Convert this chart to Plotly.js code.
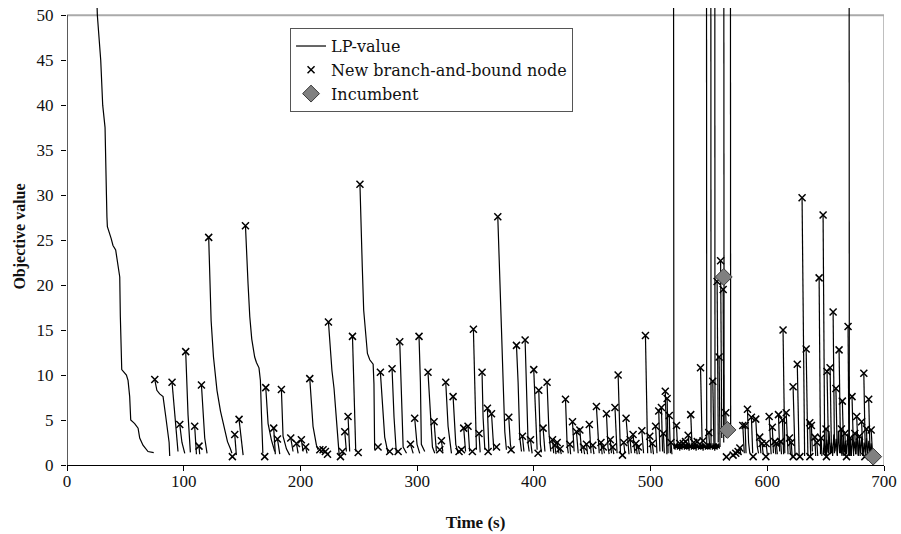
<!DOCTYPE html>
<html>
<head>
<meta charset="utf-8">
<script src="https://cdn.plot.ly/plotly-3.0.1.min.js"></script>
<style>html,body{margin:0;padding:0;background:#fff}#chart{width:901px;height:534px}</style>
</head>
<body>
<div id="chart"></div>
<script>
// LP-value trajectory: one segment per branch-and-bound node, separated by null
const lpTime = [
25.5,26,28.9,30.6,32.6,33.2,33.8,34.2,34.6,37.8,39.4,41.7,43.7,45.2,45.7,46.9,50.9,52.3,53.7,54.6,58,60.9,62.3,65.1,69.4,74.3,null,
75.2,77,79.4,82.3,84.5,86.6,87.5,88,null,
90,92,94,95.1,null,
96.6,98.5,100.9,null,
101.7,103.7,105.7,null,
109.4,110.9,null,
113.1,113.7,null,
115.2,116.6,118,120,null,
121.4,122.3,123.5,125.5,128.5,131.5,134.5,137.5,140,141.3,null,
143.7,145.1,null,
147.4,149,150.9,null,
152.9,153.7,155.1,156.6,158.3,160.8,162.3,164.5,165.7,166.6,167.8,null,
170.3,172.3,175.1,178,null,
177.1,178.5,null,
180.3,182.3,null,
183.7,185.1,188,190.8,null,
191.7,193.7,null,
196.6,198,null,
200.8,202.3,null,
204.5,205.7,null,
208,210.8,213.7,215.1,null,
216.6,218,null,
219.4,220.5,null,
221.4,222.5,null,
224,225.5,227,228.8,230.5,232,233.2,null,
236,237,null,
238,239.4,null,
240.8,242.2,null,
244.6,245.7,246.6,247.4,null,
251,252,253,254.2,255.9,257.4,259.4,262.3,263,263.6,null,
268.5,270.2,272.2,275.1,null,
278.5,280.2,282.2,null,
285.1,286,288,290.9,null,
294.3,296.6,null,
297.9,299.9,302.2,null,
301.6,302.8,303.6,306.5,null,
309.3,311.4,313.1,315.1,null,
314.5,316.5,null,
320.8,322,null,
324.5,326.5,329.4,null,
330.8,333.1,335.1,null,
339.9,341.5,null,
343.6,345,null,
348.2,349.4,350.8,null,
353,354,null,
355.6,356.5,358,null,
360.2,361.5,null,
363.7,365.7,null,
369.1,369.9,370.8,372.2,373.7,375.1,376.5,null,
378.5,379.9,381,null,
385.1,386.5,387.9,389.4,null,
390.2,391.5,null,
392.5,393.6,395.1,396,null,
397.1,398.5,null,
399.9,401.6,402.8,null,
404.2,405.6,406.5,null,
407.9,409.5,null,
411.3,413,414.5,null,
416,417,null,
418,419,null,
420,421.5,null,
422.5,423.5,null,
427.1,428.5,429.5,null,
430.8,431.5,null,
433.1,434.5,null,
436.5,438,null,
439.4,441,null,
442.5,443.5,null,
445.1,446,null,
447.5,449,null,
450.5,451.5,null,
453.6,455,456,null,
457.5,458.5,null,
459.5,460.5,null,
462.2,463.5,464.5,null,
465.5,466.5,null,
467.5,468.5,null,
469.5,470.5,471.3,null,
472.2,473.2,474.2,null,
477,478,null,
479,480.5,481.5,null,
482.5,483.5,null,
485,486.5,null,
487.5,488.5,null,
489.5,490.5,null,
492.5,494,null,
495.6,496.6,497.5,null,
499.3,500.5,null,
501.5,502.5,null,
504.3,505.5,null,
507,508,null,
509.3,510.3,null,
511,511.8,null,
512.6,513.3,514,null,
514.2,515,null,
516,517,null,
517.5,518.3,null,
519.6,519.7,
520,520.5,521,521.5,522,522.5,523,523.5,524,524.5,525,525.5,526,526.5,527,527.5,528,528.5,529,529.5,
530,530.5,531,531.5,532,532.5,533,533.5,534,534.5,535,535.5,536,536.5,537,537.5,538,538.5,539,539.5,
540,540.5,541,541.5,542,542.5,543,543.5,544,544.5,545,545.5,546,546.5,547,547.5,548,548.5,549,549.5,
550,550.5,551,551.5,552,552.5,553,553.5,554,554.5,555,555.5,556,556.5,557,557.5,558,558.5,559,null,
522.2,523,null,
532.2,533,null,
534.4,535.5,null,
542.8,543.5,544.2,null,
547.9,548.1,null,
549.9,550.5,null,
551.6,551.8,null,
553.3,553.9,554.3,null,
555,555.2,null,
557,557.6,558,null,
558.7,559.2,559.5,null,
560,560.6,561,null,
562.2,562.5,562.7,null,
562.7,563,null,
564.4,565,null,
568.4,568.6,null,
575,576,null,
576.5,577.3,null,
579,580.3,null,
581,581.8,null,
583,584,585,null,
586.4,587.5,null,
590.1,591.5,592.5,null,
593.5,594.5,null,
595.5,596.5,null,
599,600,null,
601.6,602.5,603.3,null,
604.3,605.3,null,
606.4,607.3,null,
607.8,608.6,null,
609.6,610.6,null,
611.5,612.2,null,
613,613.5,614,null,
613.5,614.2,615,null,
616.2,617,617.8,null,
619,619.8,null,
620.5,621.3,null,
622.1,623,623.8,null,
625.7,626.5,627.3,null,
629.8,630.5,631.2,632,null,
633.3,634,634.8,null,
636.4,637.2,null,
637.8,638.6,null,
640.7,641.5,null,
642.5,643.2,null,
644.4,645,645.6,null,
646.2,646.8,null,
647.8,648.5,649.2,null,
650.3,650.9,null,
651.2,651.9,652.5,null,
653.8,654.4,655,null,
656.4,657,657.6,null,
658.8,659.5,660,null,
661.5,662.2,662.8,null,
663.5,664,null,
664.3,665,665.6,null,
666.5,667.2,null,
669.2,669.7,670,null,
670.1,670.3,null,
671,671.6,null,
672.6,673.3,674,null,
675,675.7,null,
676.6,677.3,678,null,
679,679.6,null,
680.8,681.5,682,null,
682.7,683.3,684,null,
685,685.6,null,
686.9,687.5,688.1,null,
689,689.7,690.3,null,
648,649,650,651,652,653,654,655,656,657,658,659,660,661,662,663,664,665,666,667,668,669,670,671,672,673,674,675,676,677,678,679,680,681,682,683,684,685,686,687,688,689,690
];
const lpValue = [
52,50,45,40,37.5,35,30,27.6,26.5,25.2,24.4,23.9,22.4,20.9,16.5,10.6,10,9.4,7.6,5,4.6,4.1,3,2.2,1.5,1.37,null,
9.5,8.3,7.9,7.6,5.5,3.5,2.5,1.0,null,
9.2,6,3,1.5,null,
4.5,2.5,1.3,null,
12.6,5.6,1.4,null,
4.3,1.2,null,
2.1,1.2,null,
8.9,5.4,3,1.3,null,
25.3,20.5,16,12,8.3,6,4.2,2.6,1.8,1.3,null,
3.4,1.1,null,
5.07,3,1.1,null,
26.6,23.9,20.2,16.5,14,12,11.4,10.8,9.4,5.7,1.3,null,
8.6,4.6,2.8,1.5,null,
4.1,1.2,null,
2.9,1.2,null,
8.4,3.2,1.8,1.1,null,
3.0,1.5,null,
2.4,1.3,null,
2.8,1.5,null,
2.0,1.3,null,
9.6,4.3,2.2,1.7,null,
1.7,1.4,null,
1.7,1.4,null,
1.5,1.3,null,
15.9,13,10.5,8.5,6,3.5,1.1,null,
1.5,1.2,null,
3.7,1.5,null,
5.4,1.5,null,
14.3,9.2,4,1.5,null,
31.2,27.6,22,17.2,15,12.4,11.7,11.2,9,1.7,null,
10.3,7.2,3.1,1.3,null,
10.7,5.3,1.3,null,
13.7,9.1,2.0,1.3,null,
2.3,1.3,null,
5.2,2.3,1.3,null,
14.3,9.2,2.3,1.5,null,
10.3,5.3,2.0,1.3,null,
4.8,1.5,null,
2.7,1.5,null,
9.2,4.3,1.3,null,
7.6,2.3,1.3,null,
4.1,1.5,null,
4.3,1.5,null,
15.1,9.2,1.7,null,
3.5,1.4,null,
10.3,5.3,1.7,null,
6.3,1.5,null,
5.7,1.7,null,
27.6,23.9,19.4,15.3,9.2,3.7,1.7,null,
5.3,2.3,1.5,null,
13.3,9.2,3.1,1.5,null,
3.2,1.5,null,
13.9,9.2,2.3,1.5,null,
2.8,1.3,null,
10.6,5.3,1.7,null,
8.3,2.3,1.4,null,
4.1,1.5,null,
9.2,3.5,1.5,null,
2.8,1.3,null,
2.2,1.2,null,
2.5,1.3,null,
1.8,1.2,null,
7.3,2.3,1.3,null,
2.3,1.2,null,
4.8,1.5,null,
3.7,1.3,null,
3.9,1.3,null,
2.0,1.2,null,
2.3,1.2,null,
4.5,1.3,null,
2.2,1.2,null,
6.5,2.5,1.3,null,
2.5,1.2,null,
2.0,1.3,null,
5.7,2,1.2,null,
2.8,1.3,null,
2.0,1.2,null,
6.4,2.5,1.3,null,
10,4,1.3,null,
2.5,1.3,null,
5.2,2,1.2,null,
2.8,1.3,null,
3.4,1.3,null,
2.4,1.2,null,
2.0,1.2,null,
3.8,1.3,null,
14.4,6,1.3,null,
3.2,1.3,null,
2.4,1.2,null,
4.3,1.3,null,
6,1.5,null,
6.4,1.5,null,
3.5,1.3,null,
8.2,3,1.2,null,
7.4,1.3,null,
5.5,1.3,null,
2.5,1.2,null,
70,2.0,
1.8,2.4,1.7,2.3,1.9,2.4,1.7,2.2,1.8,2.4,1.6,2.3,1.8,2.4,1.7,2.4,1.9,2.2,1.7,2.3,
1.8,2.4,1.7,2.4,1.8,2.3,1.6,2.4,1.9,2.2,1.7,2.4,1.8,2.3,1.7,2.4,1.8,2.4,1.6,2.3,
1.9,2.4,1.7,2.2,1.8,2.4,1.7,2.3,1.8,2.4,1.6,2.4,1.9,2.3,1.7,2.2,1.8,2.4,1.7,2.4,
1.8,2.3,1.7,2.4,1.9,2.2,1.7,2.4,1.8,2.3,1.6,2.4,1.8,2.4,1.7,2.3,1.9,2.4,1.8,null,
4.4,2.2,null,
3.3,2.2,null,
5.6,2.3,null,
10.8,5,2.3,null,
70,2.2,null,
3.6,2.2,null,
70,2.2,null,
9.3,3,2.3,null,
70,2.2,null,
20.4,6,2.5,null,
12,3,2.0,null,
22.7,8,3,null,
19.5,6,2.5,null,
70,3.5,null,
5.8,3,null,
70,3.5,null,
1.5,1.2,null,
1.9,1.2,null,
4.4,1.3,null,
4.4,1.3,null,
6.2,2.5,1.3,null,
5.3,1.3,null,
5.1,2,1.3,null,
3.1,1.3,null,
2.4,1.2,null,
2.4,1.2,null,
5.4,2,1.2,null,
4.2,1.3,null,
2.6,1.2,null,
2.4,1.2,null,
5.6,1.5,null,
2.6,1.2,null,
5.0,2.0,1.2,null,
15,7,1.3,null,
5.8,2,1.2,null,
3,1.2,null,
2.5,0.9,null,
8.7,4,1.0,null,
11.2,5,1.0,null,
29.7,20,8,1.0,null,
12.9,6,1.0,null,
4.7,1.0,null,
4.4,1.5,null,
3.1,1.0,null,
2.5,1.0,null,
20.8,10,1.2,null,
3,1.0,null,
27.8,12,1.3,null,
4,1.0,null,
10.4,4,1.3,null,
10.8,4,1.3,null,
17,8,1.3,null,
8.5,3,1.0,null,
12.8,5,1.3,null,
4,1.2,null,
7.1,2.5,1.0,null,
3.5,1.0,null,
15.4,6,1.2,null,
70,1.0,null,
3,1.0,null,
7.6,2.5,1.0,null,
3.5,1.2,null,
5.4,2,1.0,null,
3.2,1.0,null,
4.8,1.5,1.0,null,
10.2,3,1.0,null,
4,1.2,null,
7.3,2.5,1.0,null,
3.9,1.5,1.0,null,
1.3,3.2,1.1,2.8,1.4,3.6,1.2,2.5,1.0,3.4,1.5,2.9,1.1,3.8,1.3,2.6,1.0,3.1,1.4,2.7,1.2,3.5,1.1,2.9,1.0,3.3,1.5,2.6,1.2,3.7,1.1,2.8,1.3,3.2,1.0,2.5,1.4,3.0,1.1,2.7,1.3,2.4,1.0
];

// New branch-and-bound nodes
const nodeTime = [
75.2,90,96.6,101.7,109.4,113.1,115.2,121.4,141.7,143.7,147.4,152.9,169.4,170.3,177.1,180.3,183.7,191.7,196.6,200.8,204.5,208,216.6,219.4,221.4,223.2,224,234.3,236,238,240.8,244.6,249.5,251,
266.5,268.5,276.5,278.5,283.7,285.1,294.3,297.9,301.6,309.3,314.5,319.4,320.8,324.5,330.8,335.9,338,339.9,343.6,347.3,348.2,353,355.6,360.2,360.8,363.7,368,369.1,
378.5,380.5,385.1,390.2,392.5,397.1,399.9,403.6,404.2,407.9,411.3,416,418,420,422.5,427.1,430.8,433.1,436.5,439.4,442.5,445.1,447.5,450.5,453.6,457.5,459.5,462.2,465.5,467.5,469.5,472.2,475.9,477,479,482.5,485,487.5,489.5,492.5,495.6,499.3,501.5,504.3,507,509.3,511,512.6,514.2,516,517.5,
522.2,525,528,530,532.2,534.4,537,540,542.8,545,549.9,553.3,557,558.7,560,562.2,564.4,
565,570.7,573,575,576.5,579,581,583,586.4,587.9,590.1,593.5,595.5,598.8,599,601.6,604.3,606.4,607.8,609.6,611.5,613,613.5,616.2,619,620.5,622.1,622.2,625.7,627.9,629.8,633.3,636.4,636.5,637.8,640.7,642.5,644.4,646.2,647.8,650.3,650.7,651.2,653.8,656.4,658.8,661.5,663.5,664.3,666.5,667.9,669.2,671,672.6,675,676.6,679,680.8,682.7,683.6,685,686.9,689
];
const nodeValue = [
9.5,9.2,4.5,12.6,4.3,2.1,8.9,25.3,0.93,3.4,5.07,26.6,0.93,8.6,4.1,2.9,8.4,3.0,2.4,2.8,2.0,9.6,1.7,1.7,1.5,1.2,15.9,0.93,1.5,3.7,5.4,14.3,1.4,31.2,
2.0,10.3,1.5,10.7,1.5,13.7,2.3,5.2,14.3,10.3,4.8,1.7,2.7,9.2,7.6,1.5,1.7,4.1,4.3,1.5,15.1,3.5,10.3,6.3,1.5,5.7,2.0,27.6,
5.3,1.7,13.3,3.2,13.9,2.8,10.6,1.3,8.3,4.1,9.2,2.8,2.2,2.5,1.8,7.3,2.3,4.8,3.7,3.9,2.0,2.3,4.5,2.2,6.5,2.5,2.0,5.7,2.8,2.0,6.4,10,1.1,2.5,5.2,2.8,3.4,2.4,2.0,3.8,14.4,3.2,2.4,4.3,6,6.4,3.5,8.2,7.4,5.5,2.5,
4.4,2.4,2.4,2.6,3.3,5.6,2.5,2.6,10.8,2.7,3.6,9.3,20.4,12,22.7,19.5,5.8,
0.9,1.1,1.3,1.5,1.9,4.4,4.4,6.2,5.3,0.93,5.1,3.1,2.4,0.93,2.4,5.4,4.2,2.6,2.4,5.6,2.6,5.0,15,5.8,3,2.5,8.7,0.93,11.2,0.93,29.7,12.9,4.7,0.93,4.4,3.1,2.5,20.8,3,27.8,4,0.93,10.4,10.8,17,8.5,12.8,4,7.1,3.5,0.93,15.4,3,7.6,3.5,5.4,3.2,4.8,10.2,0.93,4,7.3,3.9
];

// Incumbent solutions
const incTime = [562.7, 565.9, 690.7];
const incValue = [20.9, 3.9, 0.93];

// Axis ticks
const xTicks = [0, 100, 200, 300, 400, 500, 600, 700];
const yTicks = [0, 5, 10, 15, 20, 25, 30, 35, 40, 45, 50];

const FONT = 'Liberation Serif, Times New Roman, serif';
const LEGEND_FONT = 'DejaVu Serif, serif';

const traces = [
  {x: lpTime, y: lpValue, type: 'scatter', mode: 'lines', name: 'LP-value',
   line: {color: '#000', width: 1.2}, connectgaps: false, hoverinfo: 'skip'},
  {x: nodeTime, y: nodeValue, type: 'scatter', mode: 'markers', name: 'New branch-and-bound node',
   marker: {symbol: 'x-thin-open', size: 7, color: '#000', line: {color: '#000', width: 1.5}}},
  {x: incTime, y: incValue, type: 'scatter', mode: 'markers', name: 'Incumbent',
   marker: {symbol: 'diamond', size: 13, color: '#808080', line: {color: '#3a3a3a', width: 1}}}
];

const layout = {
  width: 901, height: 534,
  margin: {l: 67, r: 17, t: 8, b: 69},
  paper_bgcolor: '#fff', plot_bgcolor: '#fff',
  font: {family: FONT, size: 17, color: '#111'},
  showlegend: true,
  legend: {x: 0.273, y: 0.956, xanchor: 'left', yanchor: 'top',
           bgcolor: '#fff', bordercolor: '#555', borderwidth: 1,
           font: {family: LEGEND_FONT, size: 16, color: '#111'}},
  xaxis: {range: [0, 700], tickvals: xTicks, ticktext: xTicks.map(String),
          showgrid: false, zeroline: false, showline: true, linecolor: '#000', linewidth: 1.3,
          ticks: 'outside', ticklen: 5, tickcolor: '#000', tickwidth: 1, ticklabelstandoff: -5,
          tickfont: {family: FONT, size: 17, color: '#111'},
          title: {text: '<b>Time (s)</b>', font: {family: FONT, size: 17, color: '#111'}, standoff: 26}},
  yaxis: {range: [0, 50.8], tickvals: yTicks, ticktext: yTicks.map(String),
          showgrid: false, zeroline: false, showline: false,
          ticks: 'outside', ticklen: 5, tickcolor: '#000', tickwidth: 1, ticklabelstandoff: 4,
          tickfont: {family: FONT, size: 17, color: '#111'},
          title: {text: '<b>Objective value</b>', font: {family: FONT, size: 16, color: '#111'}}},
  shapes: [
    {type: 'line', xref: 'x', yref: 'y', x0: 0, x1: 700, y0: 50, y1: 50, line: {color: '#aaaaaa', width: 2}, layer: 'below'},
    {type: 'line', xref: 'x', yref: 'y', x0: 700, x1: 700, y0: 0, y1: 50, line: {color: '#aaaaaa', width: 1.5}, layer: 'below'},
    {type: 'line', xref: 'x', yref: 'y', x0: 0, x1: 0, y0: 0, y1: 50, line: {color: '#000', width: 1.3}, layer: 'above'}
  ]
};

Plotly.newPlot('chart', traces, layout, {displayModeBar: false, staticPlot: true});
</script>
</body>
</html>
